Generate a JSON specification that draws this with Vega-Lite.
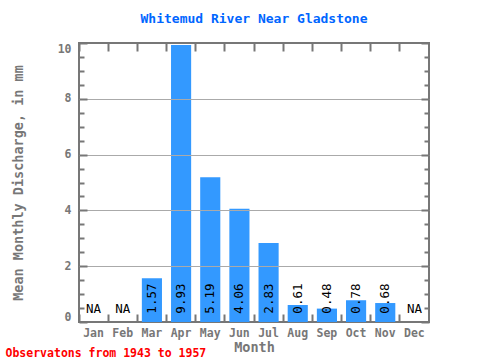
{
  "$schema": "https://vega.github.io/schema/vega-lite/v6.json",
  "width": 350,
  "height": 279,
  "autosize": {"type": "none"},
  "padding": {"left": 79, "top": 43, "right": 51, "bottom": 38},
  "background": "white",
  "title": {
    "text": "Whitemud River Near Gladstone",
    "color": "#0066ff",
    "font": "DejaVu Sans Mono",
    "fontSize": 13,
    "fontWeight": "bold",
    "anchor": "middle",
    "baseline": "alphabetic",
    "offset": 6
  },
  "config": {
    "view": {"stroke": "#777777", "strokeWidth": 2},
    "axis": {"tickColor": "#777777", "tickWidth": 2, "tickCap": "butt"}
  },
  "data": {
    "values": [
      {"month": "Jan", "value": null},
      {"month": "Feb", "value": null},
      {"month": "Mar", "value": 1.57},
      {"month": "Apr", "value": 9.93},
      {"month": "May", "value": 5.19},
      {"month": "Jun", "value": 4.06},
      {"month": "Jul", "value": 2.83},
      {"month": "Aug", "value": 0.61},
      {"month": "Sep", "value": 0.48},
      {"month": "Oct", "value": 0.78},
      {"month": "Nov", "value": 0.68},
      {"month": "Dec", "value": null}
    ]
  },
  "resolve": {"axis": {"x": "independent", "y": "independent"}},
  "layer": [
    {
      "transform": [{"filter": "isValid(datum.value)"}],
      "mark": {"type": "bar", "color": "#3399ff", "width": {"band": 0.69}},
      "encoding": {
        "x": {
          "field": "month", "type": "nominal",
          "scale": {"type": "band", "domain": ["Jan","Feb","Mar","Apr","May","Jun","Jul","Aug","Sep","Oct","Nov","Dec"], "paddingInner": 0, "paddingOuter": 0},
          "axis": {
            "orient": "bottom", "title": "Month", "ticks": false, "tickSize": 0, "domain": false,
            "labelAngle": 0, "labelPadding": 5, "labelFont": "DejaVu Sans Mono", "labelFontSize": 11.5,
            "labelFontWeight": "bold", "labelColor": "#777777",
            "titleFont": "DejaVu Sans Mono", "titleFontSize": 13.5, "titleFontWeight": "bold",
            "titleColor": "#777777", "titlePadding": 2
          }
        },
        "y": {
          "field": "value", "type": "quantitative",
          "scale": {"domain": [0, 10], "nice": false},
          "axis": {
            "orient": "left", "values": [0, 2, 4, 6, 8, 10],
            "title": "Mean Monthly Discharge, in mm",
            "titleFont": "DejaVu Sans Mono", "titleFontSize": 13.5, "titleFontWeight": "bold",
            "titleColor": "#777777", "titlePadding": 32,
            "labelFont": "DejaVu Sans Mono", "labelFontSize": 11.5, "labelFontWeight": "bold",
            "labelColor": "#777777", "labelPadding": 8, "labelFlush": true,
            "ticks": false, "tickSize": 0, "domain": false,
            "grid": true, "gridColor": "#aaaaaa", "gridWidth": 1,
            "gridOpacity": {"condition": {"test": "datum.value > 0 && datum.value < 10", "value": 1}, "value": 0},
            "zindex": 1
          }
        }
      }
    },
    {
      "transform": [{"filter": "isValid(datum.value)"}],
      "mark": {"type": "text", "angle": 270, "align": "left", "baseline": "middle", "font": "DejaVu Sans Mono", "fontSize": 12.5, "color": "black"},
      "encoding": {
        "x": {
          "field": "month", "type": "nominal",
          "scale": {"type": "band", "domain": ["Jan","Feb","Mar","Apr","May","Jun","Jul","Aug","Sep","Oct","Nov","Dec"], "paddingInner": 0, "paddingOuter": 0},
          "axis": {
            "orient": "bottom", "labels": false, "domain": false, "bandPosition": 0, "tickSize": -8,
            "title": "Observatons from 1943 to 1957", "titleColor": "red", "titleFont": "DejaVu Sans Mono",
            "titleFontSize": 11.5, "titleFontWeight": "bold", "titleX": -74, "titleY": 34,
            "titleAlign": "left", "titleAnchor": "start", "titleBaseline": "alphabetic", "titleAngle": 0,
            "zindex": 1
          }
        },
        "y": {
          "datum": 0.3, "type": "quantitative",
          "scale": {"domain": [0, 10], "nice": false},
          "axis": {
            "orient": "left", "values": [0,0.5,1,1.5,2,2.5,3,3.5,4,4.5,5,5.5,6,6.5,7,7.5,8,8.5,9,9.5,10],
            "labels": false, "title": null, "domain": false, "grid": false,
            "tickSize": {"condition": {"test": "datum.value % 2 == 0", "value": -8}, "value": -5},
            "zindex": 1
          }
        },
        "text": {"field": "value", "type": "quantitative", "format": ".2f"}
      }
    },
    {
      "transform": [{"filter": "!isValid(datum.value)"}],
      "mark": {"type": "text", "align": "center", "baseline": "alphabetic", "font": "DejaVu Sans Mono", "fontSize": 12.5, "color": "black", "text": "NA"},
      "encoding": {
        "x": {
          "field": "month", "type": "nominal",
          "scale": {"type": "band", "domain": ["Jan","Feb","Mar","Apr","May","Jun","Jul","Aug","Sep","Oct","Nov","Dec"], "paddingInner": 0, "paddingOuter": 0},
          "axis": {
            "orient": "top", "labels": false, "domain": false, "bandPosition": 0, "tickSize": -8, "title": null, "zindex": 1
          }
        },
        "y": {
          "datum": 0.32, "type": "quantitative",
          "scale": {"domain": [0, 10], "nice": false},
          "axis": {
            "orient": "right", "values": [0,0.5,1,1.5,2,2.5,3,3.5,4,4.5,5,5.5,6,6.5,7,7.5,8,8.5,9,9.5,10],
            "labels": false, "title": null, "domain": false, "grid": false,
            "tickSize": {"condition": {"test": "datum.value % 2 == 0", "value": -8}, "value": -5},
            "zindex": 1
          }
        }
      }
    }
  ]
}
